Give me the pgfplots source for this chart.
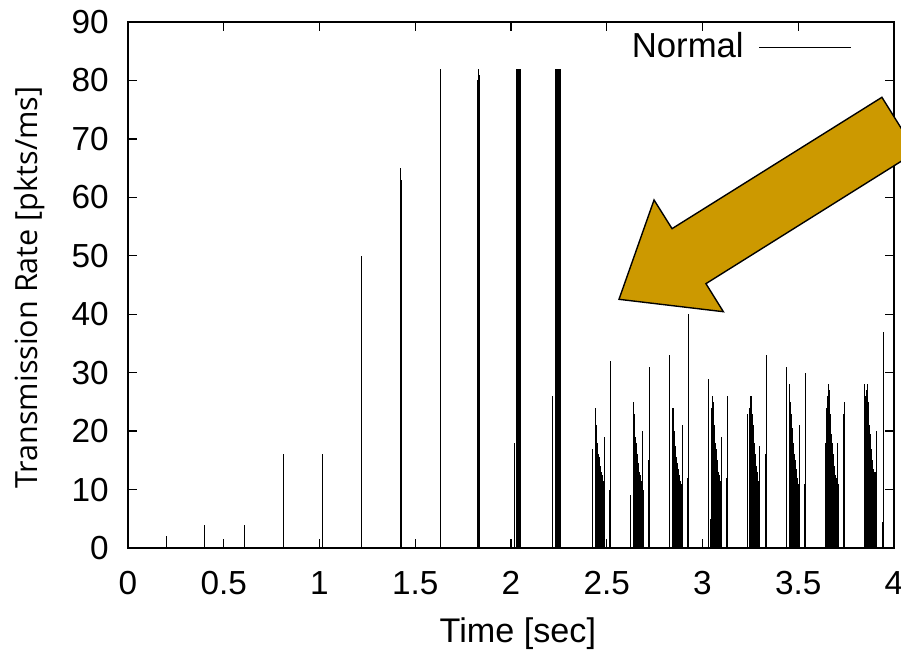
\documentclass[border=0pt]{standalone}
\usepackage{pgfplots}
\pgfplotsset{compat=1.18}
\usepackage{fontspec}
\setmainfont{Liberation Sans}
\newfontfamily\opensans{Open Sans}
\definecolor{arrowgold}{RGB}{204,153,0}
\begin{document}
\begin{tikzpicture}
\useasboundingbox (-46.08pt,-37.08pt) rectangle (278.28pt,197.28pt);
\clip (-46.08pt,-37.08pt) rectangle (278.28pt,197.28pt);
\begin{axis}[
  at={(0pt,0pt)}, anchor=south west,
  scale only axis,
  width=275.76pt, height=189.36pt,
  xmin=0, xmax=4, ymin=0, ymax=90,
  xtick={0,0.5,...,4}, ytick={0,10,...,90},
  tick align=inside,
  major tick length=3.2pt,
  every tick/.style={black, line width=0.5pt},
  axis line style={black, line width=0.7pt},
  /pgf/number format/assume math mode=true,
  tick label style={font=\fontsize{12}{14}\selectfont},
  xticklabel style={yshift=-4.8pt},
  yticklabel style={xshift=-3.4pt},
  xlabel={Time [sec]},
  ylabel={Transmission Rate [pkts/ms]},
  xlabel style={at={(axis description cs:0.509,-0.162)}, anchor=center, font=\fontsize{12.3}{14}\selectfont},
  ylabel style={at={(axis description cs:-0.128,0.495)}, anchor=center, font=\opensans\fontsize{11}{13}\selectfont},
  legend style={at={(axis cs:3.781,85.7)}, anchor=east, draw=none, fill=none, inner sep=0pt,
    nodes={inner sep=0pt}, column sep=5.4pt, font=\fontsize{12.5}{14}\selectfont},
  legend plot pos=right,
  clip=false,
]
\addplot[ycomb, black, line width=0.4pt, mark=none,
  legend image code/.code={\draw[black, line width=0.4pt] (0pt,0pt) -- (33pt,0pt);}]
coordinates {
(0.200,2) (0.400,4) (0.610,4) (0.810,16) (1.017,16) (1.218,50)
(1.424,65) (1.426,63) (1.630,82) (1.632,61)
(1.826,80) (1.828,82) (1.830,82) (1.832,82) (1.834,81)
(2.016,18)
(2.028,82) (2.030,82) (2.032,82) (2.034,82) (2.036,82) (2.038,82) (2.040,82) (2.042,82) (2.044,82) (2.046,82) (2.048,82)
(2.216,10) (2.218,26)
(2.231,82) (2.233,82) (2.235,82) (2.237,82) (2.239,82) (2.241,82) (2.243,82) (2.245,82) (2.247,82) (2.249,82) (2.251,82) (2.253,82) (2.255,82) (2.257,82) (2.259,82)
(2.425,17)
(2.439,24) (2.442,24) (2.445,21) (2.448,19) (2.451,18) (2.454,17) (2.457,16) (2.460,15.5) (2.463,15) (2.466,14) (2.469,13.5) (2.472,13) (2.475,12.5) (2.478,12) (2.481,11.5) (2.484,11) (2.487,19) (2.490,3)
(2.516,10) (2.520,32)
(2.625,9)
(2.639,24) (2.641,25) (2.644,23) (2.647,21) (2.650,19) (2.653,18) (2.656,17) (2.659,16) (2.662,15) (2.665,14.5) (2.668,14) (2.671,13) (2.674,12.5) (2.677,12) (2.680,11.5) (2.683,11) (2.686,10.5) (2.689,20) (2.692,10)
(2.717,15) (2.722,31)
(2.830,33)
(2.844,23) (2.846,24) (2.849,22) (2.852,20) (2.855,18.5) (2.858,17.5) (2.861,16.5) (2.864,15.5) (2.867,14.5) (2.870,14) (2.873,13.5) (2.876,13) (2.879,12.5) (2.882,12) (2.885,11.5) (2.888,11) (2.891,11) (2.895,21)
(2.923,12) (2.925,40)
(3.032,29)
(3.041,5) (3.046,24) (3.050,25) (3.053,26) (3.056,25) (3.059,23) (3.062,21) (3.065,19.5) (3.068,18) (3.071,17) (3.074,16) (3.077,15) (3.080,14) (3.083,13) (3.086,12.5) (3.089,12) (3.092,11.5) (3.095,11) (3.098,19)
(3.126,12) (3.130,26)
(3.234,23)
(3.244,14) (3.248,24) (3.252,26) (3.255,26) (3.258,26) (3.261,23) (3.264,21) (3.267,19.5) (3.270,18) (3.273,17) (3.276,16) (3.279,15) (3.282,14) (3.285,13) (3.288,12) (3.291,11.5) (3.294,11.5) (3.297,11) (3.300,17.5)
(3.330,16) (3.335,33)
(3.440,31)
(3.453,28) (3.456,28) (3.459,25) (3.462,23) (3.465,22) (3.468,20.5) (3.471,19) (3.474,18) (3.477,17) (3.480,16) (3.483,15) (3.486,14) (3.489,13.5) (3.492,13) (3.495,12) (3.498,11.5) (3.501,11) (3.506,21)
(3.532,11) (3.537,30)
(3.641,18)
(3.650,24) (3.655,26) (3.658,28) (3.661,27) (3.664,25) (3.667,23) (3.670,21) (3.673,19.5) (3.676,18) (3.679,17) (3.682,16) (3.685,15) (3.688,14) (3.691,13) (3.694,12.5) (3.697,12) (3.700,11.5) (3.704,18) (3.708,11) (3.712,6)
(3.735,23) (3.740,25)
(3.845,28)
(3.854,26) (3.857,27) (3.860,28) (3.863,27) (3.866,25) (3.869,23) (3.872,21) (3.875,19.5) (3.878,18) (3.881,17) (3.884,16) (3.887,15) (3.890,14) (3.893,13.5) (3.896,13) (3.899,12.5) (3.902,12.5) (3.905,13) (3.909,20)
(3.941,4.5) (3.944,37)
};
\addlegendentry{Normal}
\draw[fill=arrowgold, draw=black, line width=0.5pt]
  (axis cs:2.564,42.55) -- (axis cs:2.747,59.55) -- (axis cs:2.841,54.64)
  -- (axis cs:3.937,77.12) -- (axis cs:4.115,67.76) -- (axis cs:3.018,45.23)
  -- (axis cs:3.109,40.43) -- cycle;
\end{axis}
\end{tikzpicture}
\end{document}
